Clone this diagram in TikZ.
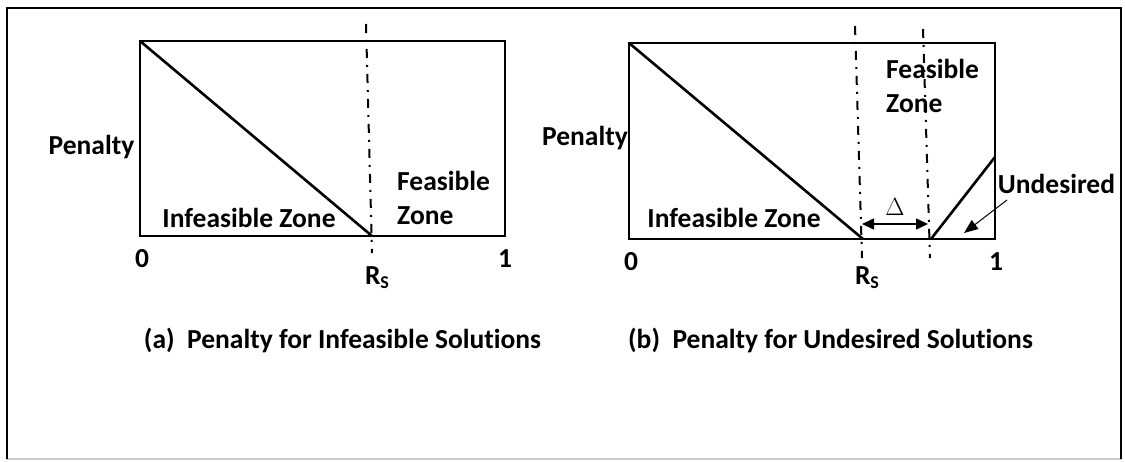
\documentclass[tikz,border=0pt]{standalone}
\usepackage{fontspec}
\setmainfont{Carlito}[Ligatures=NoCommon]
\usetikzlibrary{arrows.meta}
\begin{document}
\begin{tikzpicture}[x=1pt,y=-1pt,
	lbl/.style={font=\fontsize{27.5}{32}\selectfont\bfseries, inner sep=0pt},
	rsline/.style={line width=2pt, dash pattern=on 9pt off 7pt on 2pt off 7pt},
	curve/.style={line width=2.6pt}]
	\useasboundingbox (0,0) rectangle (1125,461);
	
	% Outer frame
	\draw[gray!40, line width=1.5pt] (7,459) -- (1121,459);
	\draw[line width=2.6pt] (7,459) -- (7,8) -- (1121,8) -- (1121,459);
	
	% (a) Penalty box
	\draw[curve] (140,41) rectangle (505,236);
	\draw[curve] (140,41) -- (372,236);
	\draw[rsline] (366,24) -- (372,253);
	
	\node[lbl] (pena) at (91.5,147) {Penalty};
	\node[lbl] (zeroa) at (142,259) {0};
	\node[lbl] (onea) at (505,259) {1};
	\node[lbl] (rsa) at (377,278) {R\raisebox{-4pt}{\fontsize{18}{18}\selectfont S}};
	\node[lbl, anchor=west] (feasa) at (397,181) {Feasible};
	\node[lbl, anchor=west] (zonea) at (397,216) {Zone};
	\node[lbl] (infa) at (249,218) {Infeasible Zone};
	\node[lbl] (capa) at (342.5,340) {(a)\ \ Penalty for Infeasible Solutions};
	
	% (b) Penalty box
	\draw[curve] (629,43) rectangle (995,239);
	\draw[curve] (629,43) -- (863,239);
	\draw[curve] (931,239) -- (995,157);
	\draw[rsline] (855,26) -- (862,258);
	\draw[rsline] (923,29) -- (930,258);
	
	\node[lbl] (penb) at (585,138) {Penalty};
	\node[lbl] (zerob) at (631,262) {0};
	\node[lbl] (oneb) at (996,262) {1};
	\node[lbl] (rsb) at (867,278) {R\raisebox{-4pt}{\fontsize{18}{18}\selectfont S}};
	\node[lbl, anchor=west] (feasb) at (886,69) {Feasible};
	\node[lbl, anchor=west] (zoneb) at (886,104) {Zone};
	\node[lbl] (infb) at (734,218) {Infeasible Zone};
	\node[lbl] (undes) at (1056.5,184) {Undesired};
	\node[lbl] (capb) at (830.5,340) {(b)\ \ Penalty for Undesired Solutions};
	
	% Delta gap
	\coordinate (dl) at (862,224);
	\coordinate (dr) at (928,224);
	\draw[line width=1.6pt, {Triangle[length=12pt,width=11pt]}-{Triangle[length=12pt,width=11pt]}] (dl) -- (dr);
	\node[inner sep=0pt, font=\fontsize{29}{29}\selectfont] (delta) at (895,207) {$\Delta$};
	
	% Arrow to undesired zone
	\coordinate (undtip) at (964,233);
	\draw[line width=1pt, -{Triangle[length=14pt,width=11pt]}] (1007,200) -- (undtip);
\end{tikzpicture}
\end{document}
